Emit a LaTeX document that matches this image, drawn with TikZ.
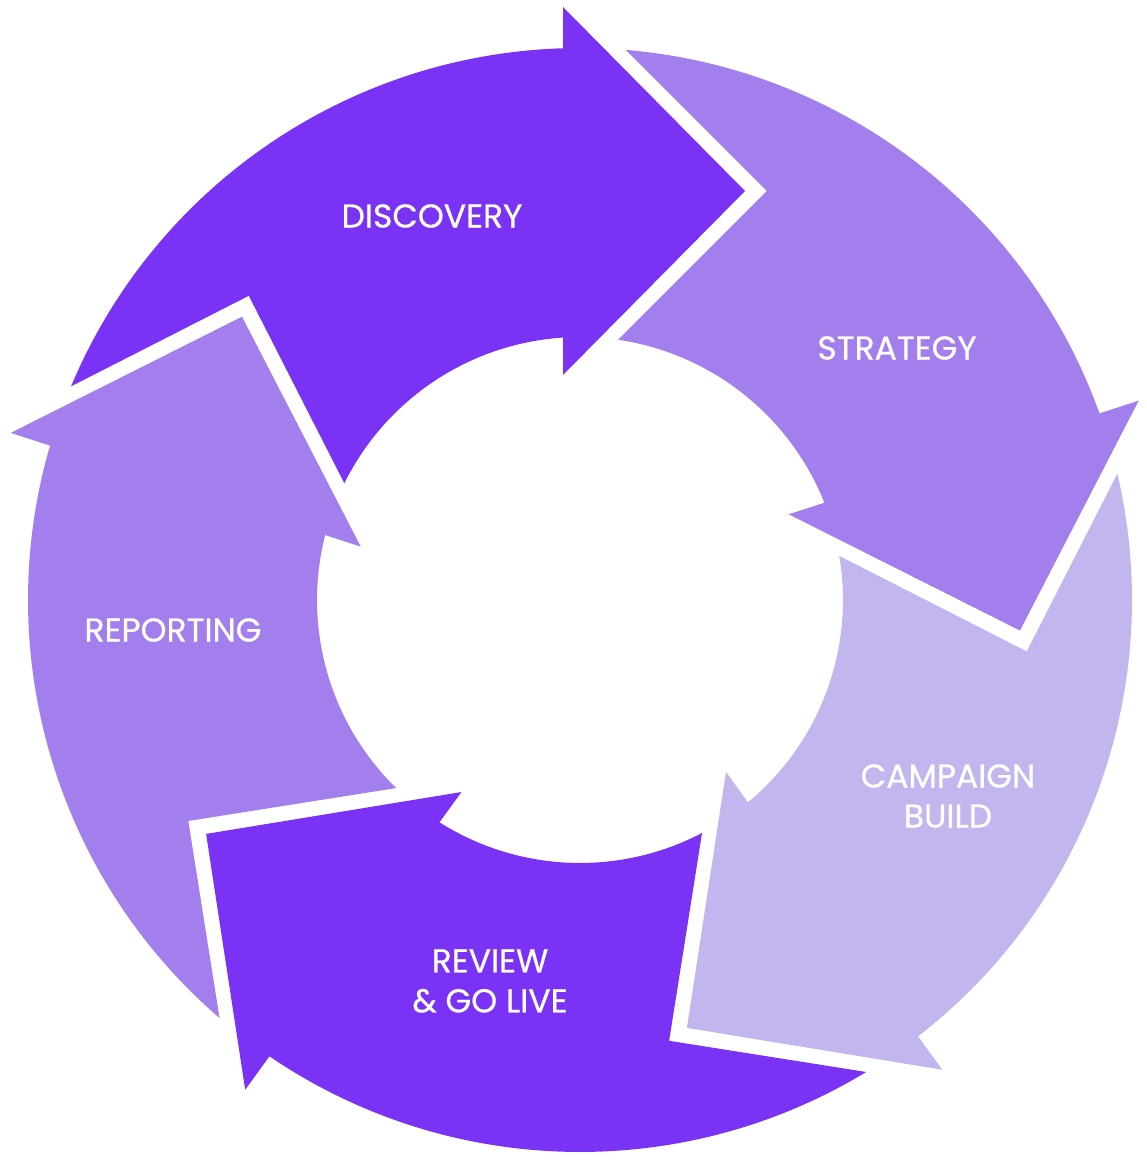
\documentclass[tikz,border=0pt]{standalone}
\usepackage{fontspec}
\setmainfont{Poppins}[FakeBold=0.6]
\usepackage{tikz}
\definecolor{violetdark}{HTML}{7A33F5}
\definecolor{violetmid}{HTML}{A37FEE}
\definecolor{violetlight}{HTML}{C3B5ED}

\begin{document}
\begin{tikzpicture}[x=0.5pt,y=0.5pt,
      label/.style={text=white,align=center,font=\fontsize{16.5}{20}\selectfont},
      stage/.style={draw=none}]
    \useasboundingbox (-580,-560) rectangle (566,600);
    % one ring arrow per stage, turned round the centre
    \foreach \turn/\col in {0/violetdark,-72/violetmid,-144/violetlight,-216/violetdark,-288/violetmid}{
        \fill[stage,fill=\col,rotate=\turn]
            (157.23:552) arc[start angle=157.23,end angle=91.76,radius=552]
            -- (-17,593) -- (165,409) -- (-17,225)
            -- (93.70:263) arc[start angle=93.70,end angle=153.65,radius=263]
            -- (-331.2,304.2) -- cycle;
    }
    \node[label] (discovery) at (-148,384) {DISCOVERY};
    \node[label] (strategy) at (317,252) {STRATEGY};
    \node[label] (build) at (368,-196) {CAMPAIGN\\BUILD};
    \node[label] (golive) at (-90,-381) {REVIEW\\\& GO LIVE};
    \node[label] (reporting) at (-407,-30) {REPORTING};
\end{tikzpicture}
\end{document}
